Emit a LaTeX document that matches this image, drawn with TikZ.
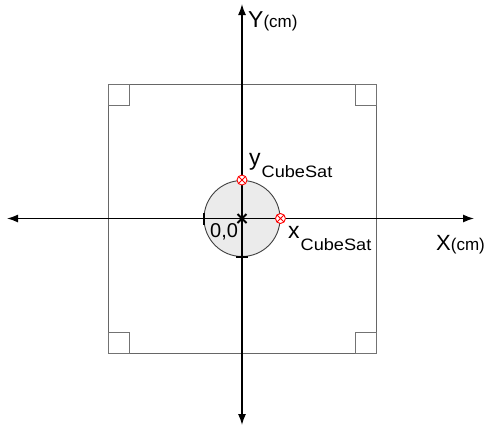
\documentclass[tikz,border=0pt]{standalone}
\usepackage{graphicx}
\usepackage{fontspec}
\setmainfont{Liberation Sans}
\usetikzlibrary{arrows.meta}

% wide subscript text, as in the drawing
\newcommand{\satsub}[1]{\raisebox{-12pt}{\scalebox{1.1}[1]{\fontsize{16.5}{16.5}\selectfont #1}}}

\begin{document}
\begin{tikzpicture}[
  x=1pt, y=-1pt,
  axis/.style={
    {Latex[length=11pt,width=8pt]}-{Latex[length=11pt,width=8pt]},
    line width=1.4pt},
  frame/.style={
    rectangle, draw=black!60, line width=1pt,
    inner sep=0pt, outer sep=0pt},
  corner/.style={
    rectangle, draw=black!55, line width=1pt,
    minimum size=21pt, inner sep=0pt, outer sep=0pt},
  body/.style={
    circle, draw=black!75, fill=black!8, line width=0.9pt,
    minimum size=76pt, inner sep=0pt},
  sensor/.style={
    circle, draw=red, fill=white, line width=0.9pt,
    minimum size=10pt, inner sep=0pt,
    path picture={
      \draw[red, line width=0.9pt]
        (path picture bounding box.north west) --
        (path picture bounding box.south east)
        (path picture bounding box.north east) --
        (path picture bounding box.south west);}},
  lbl/.style={
    inner sep=0pt, anchor=base west,
    font=\fontsize{23}{23}\selectfont},
  tick/.style={line width=2pt},
]

  \useasboundingbox (0,0) rectangle (489,434);

  % ── Frame and corner squares ────────────────────────────────────────────
  \node[frame, minimum width=268pt, minimum height=269pt] (box) at (242,218.5) {};
  \node[corner, anchor=north west] (cNW) at (box.north west) {};
  \node[corner, anchor=north east] (cNE) at (box.north east) {};
  \node[corner, anchor=south west] (cSW) at (box.south west) {};
  \node[corner, anchor=south east] (cSE) at (box.south east) {};

  % ── CubeSat body ────────────────────────────────────────────────────────
  \node[body] (sat) at (242,218.5) {};

  % ── Axes ────────────────────────────────────────────────────────────────
  \coordinate (xleft)  at (7,218.5);
  \coordinate (xright) at (474,218.5);
  \coordinate (ytop)   at (242,4);
  \coordinate (ybot)   at (242,425);
  \draw[axis] (xleft) -- (xright);
  \draw[axis] (ybot)  -- (ytop);

  % ── Origin mark and ticks ───────────────────────────────────────────────
  \draw[line width=1.8pt] (sat.center) +(-4.5,-4.5) -- +(4.5,4.5)
                          (sat.center) +(-4.5,4.5)  -- +(4.5,-4.5);
  \draw[tick] (sat.west)  +(0,-6) -- +(0,6);
  \draw[tick] (sat.south) +(-6,0) -- +(6,0);

  % ── Sensor marks ────────────────────────────────────────────────────────
  \node[sensor] (ymark) at (sat.north) {};
  \node[sensor] (xmark) at (sat.east)  {};

  % ── Labels ──────────────────────────────────────────────────────────────
  \node[lbl] (ylab)  at (248,27)  {Y\fontsize{17}{17}\selectfont(cm)};
  \node[lbl, font=\fontsize{22}{22}\selectfont] (xlab) at (436,250)
      {X\fontsize{17}{17}\selectfont(cm)};
  \node[lbl] (ysat)  at (249,165) {y\hspace{1pt}\satsub{CubeSat}};
  \node[lbl] (xsat)  at (288,238) {x\hspace{1pt}\satsub{CubeSat}};
  \node[lbl, font=\fontsize{20}{20}\selectfont] (orig) at (210,237) {0,0};

\end{tikzpicture}
\end{document}
